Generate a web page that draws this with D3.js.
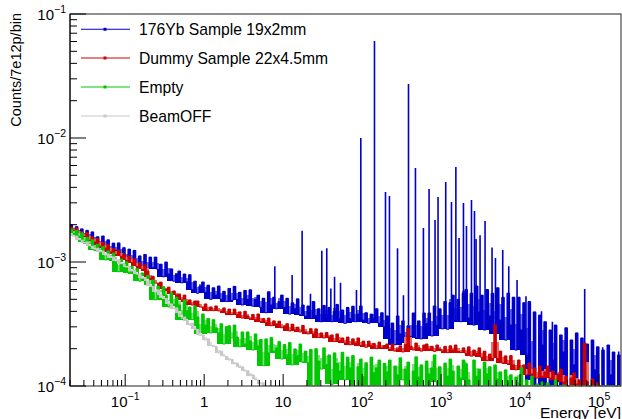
<!DOCTYPE html>
<html><head><meta charset="utf-8">
<script src="https://cdn.jsdelivr.net/npm/d3@7/dist/d3.min.js"></script>
<style>
body{margin:0;background:#fff}
svg{display:block}
text{font-family:"Liberation Sans",Arial,Helvetica,sans-serif;fill:#000}
</style>
</head><body>
<svg id="chart" width="622" height="419"></svg>
<script>
// ---- data (values in units of 1e-6 counts/7e12p/bin) ----
const UNIT = 1e-6;
const binStart = 0.02;        // eV, first bin edge
const binsPerDecade = 30;     // log binning
const nBins = 210;

const yb176 = [
 1990,1785,1930,1720,1850,1590,1800,1560,1750,1450,1600,1340,1620,1330,1510,1200,1420,1240,1425,1120,1305,1030,1270,1040,1240,950,1120,890,1150,880,
 1095,900,1095,870,960,760,1000,800,880,700,800,845,680,800,690,790,600,700,560,640,690,570,650,500,620,540,640,500,580,480,
 612,490,636,500,570,450,590,500,597,440,500,540,430,510,390,576,450,520,420,480,541,430,510,380,470,420,505,375,450,365,
 442,350,480,370,420,330,446,380,430,330,400,455,350,410,320,430,350,440,330,380,442,340,390,320,380,350,420,320,390,300,
 367,239,322,215,367,263,335,222,306,251,388,244,335,240,388,318,388,253,442,308,420,289,480,287,470,540,340,500,330,560,
 600,353,560,310,640,396,540,283,600,367,560,263,620,340,520,235,560,310,520,195,520,283,470,178,480,112,396,0,373,214,
 330,0,283,162,310,0,258,188,295,0,235,148,268,0,244,162,218,0,235,135,207,0,195,0,214,123,188,0,178,0
];
// Yb sample gamma lines: energy (eV) and peak bin content
const peakEnergy = [7.85,13.0,17.4,22.2,30.9,35.7,40.2,44.8,53.3,84.9,96.3,143.5,197.8,222,281,334,387,474,598,705,839,916,1146,1355,1540,1690,1922,2098,2428,2650,2775,3118,3607,4423,4885,6040,7200,9170,11900,18700,25700,65900,111400,177500];
const peakValue  = [925,785,1790,555,1230,1290,610,760,680,595,10000,60500,3670,3400,1290,540,27200,5730,1880,3880,2180,3340,4420,3050,5840,1560,2990,1950,3160,2580,1530,1640,2140,1310,1077,1250,925,715,530,400,330,605,205,190];

const dummy = [
 1915,1800,1885,1680,1755,1610,1725,1495,1600,1450,1545,1340,1440,1295,1385,1205,1285,1150,1245,1110,1160,1030,1120,990,1060,920,985,870,950,845,
 740,768,675,675,688,605,605,627,552,584,541,552,495,541,476,495,450,485,485,434,430,459,405,434,405,442,403,403,426,385,
 417,377,417,377,396,353,400,367,347,377,343,381,330,350,324,353,306,335,315,333,295,303,318,278,315,283,298,273,308,273,
 263,290,263,289,246,268,244,270,248,258,228,263,232,244,222,248,215,240,222,244,212,230,205,230,212,220,200,226,203,212,
 218,197,218,191,199,211,188,216,290,209,195,222,203,191,214,218,199,209,190,214,199,191,209,186,211,195,214,190,186,203,
 183,207,174,195,183,203,170,191,160,181,167,311,167,191,153,175,151,176,148,135,162,137,148,123,153,125,140,116,145,120,
 130,145,116,132,112,125,137,108,120,0,116,128,104,112,0,222,108,0,114,0,106,0
];

const empty = [
 1845,1700,1805,1615,1720,1460,1580,1395,1510,1240,1390,1230,1330,1040,1230,1070,1180,1020,835,1055,925,1005,820,925,800,885,700,815,705,780,
 650,715,495,638,545,632,540,434,563,455,520,450,343,495,403,434,343,442,360,263,381,310,350,268,343,295,268,318,218,300,
 306,244,310,248,207,273,218,273,231,195,263,211,237,146,240,185,246,191,203,228,165,216,178,224,148,199,176,218,156,191,
 154,197,0,200,159,137,203,149,178,103,185,152,132,187,112,171,140,176,0,143,165,119,154,0,171,128,140,162,0,152,
 130,162,0,145,123,169,112,137,156,0,132,172,118,148,0,159,125,140,178,108,143,0,153,120,165,132,0,145,116,162,
 151,112,0,162,120,137,0,156,125,143,0,148,114,130,0,135,108,123,0,118,106,140,0,112,0,120,0,104,0,108,
 0,106,0,0,112,0,0,102
];

const beamOff = [
 1690,1610,1620,1515,1500,1420,1450,1350,1340,1270,1290,1210,1225,1140,1160,1085,1100,1020,1040,970,963,910,915,845,855,797,800,740,750,700,
 638,632,573,595,545,512,506,459,459,420,426,385,360,360,337,310,321,289,283,256,258,235,240,212,211,207,185,191,175,173,
 162,164,151,153,141,143,132,133,121,123,113,112,104,106
];

const seriesNames  = ["176Yb Sample 19x2mm","Dummy Sample 22x4.5mm","Empty","BeamOFF"];
const seriesColors = ["#0000cc","#cc0000","#00c800","#c8c8c8"];
const seriesShades = ["#6a6ae0","#e07070","#80e080","#dcdcdc"];

const xTickValues = [0.1,1,10,100,1000,10000,100000];
const xTickLabels = [["10","\u22121"],["1",""],["10",""],["10","2"],["10","3"],["10","4"],["10","5"]];
const yTickValues = [1e-4,1e-3,1e-2,1e-1];
const yTickLabels = [["10","\u22124"],["10","\u22123"],["10","\u22122"],["10","\u22121"]];
const xTitle = "Energy [eV]";
const yTitle = "Counts/7e12p/bin";

// ---- drawing ----
const svg = d3.select("#chart");
const L = 70, R = 621, T = 14, B = 386;
const x = d3.scaleLog().domain([0.02, 1.9e5]).range([L, R]);
const y = d3.scaleLog().domain([1e-4, 1e-1]).range([B, T]);

svg.append("defs").append("clipPath").attr("id","clip")
  .append("rect").attr("x",L).attr("y",T-1).attr("width",R-L).attr("height",B-T+1.5);

const edges = d3.range(nBins+1).map(k => binStart*Math.pow(10, k/binsPerDecade));
const binOf = E => Math.floor(Math.log10(E/binStart)*binsPerDecade);
const yOf = v => { const c = (v||0)*UNIT; return c < 1e-4 ? y(1e-4) : y(c); };

// dense histogram: each bin drawn as a column from its content down to the
// lowest content among nearby bins (the fine-binned noise band); a paler layer
// reaching toward the neighbours' maximum mimics the anti-aliased fine-bin fringe.
function drawHist(g, vals, color, shade, reach){
  const cols = [];
  const get = j => (j < vals.length ? vals[j] : 0) || 0;
  for(let k=0;k<nBins;k++){
    const v = get(k);
    let lo = v;
    for(let j=k-reach;j<=k+reach;j++){
      if(j<0 || j>=nBins) continue;
      lo = Math.min(lo, get(j));
    }
    const hi = Math.max(v, k>0 ? get(k-1) : v, k<nBins-1 ? get(k+1) : v);
    cols.push({k, top: yOf(v), bot: yOf(lo), hiTop: yOf(Math.sqrt(hi*v))});
  }
  const xr = d => x(edges[d.k]), wr = d => x(edges[d.k+1]) - x(edges[d.k]);
  g.selectAll(null).data(cols).enter().append("rect")
    .attr("x", xr).attr("width", wr)
    .attr("y", d => d.hiTop).attr("height", d => Math.max(0, d.bot - d.hiTop))
    .attr("fill", shade).attr("shape-rendering","crispEdges");
  g.selectAll(null).data(cols).enter().append("rect")
    .attr("x", xr).attr("width", wr)
    .attr("y", d => d.top).attr("height", d => Math.max(0, d.bot - d.top))
    .attr("fill", color).attr("shape-rendering","crispEdges");
  let p = "";
  for(let k=0;k<nBins;k++){
    const yy = yOf(get(k));
    const x0 = x(edges[k]), x1 = x(edges[k+1]);
    p += (k===0 ? `M${x0.toFixed(2)},${yy.toFixed(2)}` : `V${yy.toFixed(2)}`) + `H${x1.toFixed(2)}`;
  }
  g.append("path").attr("d", p).attr("fill","none").attr("stroke", color).attr("stroke-width",1);
}

const plot = svg.append("g").attr("clip-path","url(#clip)");
const gBlue = plot.append("g");
drawHist(gBlue, yb176, seriesColors[0], seriesShades[0], 2);
// gamma lines as narrow spikes above the continuum
gBlue.selectAll(null).data(peakEnergy.map((E,i)=>({E, v: peakValue[i]}))).enter().append("line")
  .attr("x1", d => x(d.E)).attr("x2", d => x(d.E))
  .attr("y1", d => yOf(yb176[binOf(d.E)]))
  .attr("y2", d => yOf(d.v))
  .attr("stroke", seriesColors[0]).attr("stroke-width",1.6);
drawHist(plot.append("g"), dummy, seriesColors[1], seriesShades[1], 2);
drawHist(plot.append("g"), empty, seriesColors[2], seriesShades[2], 2);
drawHist(plot.append("g"), beamOff, seriesColors[3], seriesShades[3], 1);

// frame
svg.append("rect").attr("x",L).attr("y",T).attr("width",R-L).attr("height",B-T)
  .attr("fill","none").attr("stroke","#222").attr("stroke-width",1);
svg.append("line").attr("x1",L).attr("x2",L).attr("y1",T).attr("y2",B).attr("stroke","#000");

// x ticks
const gx = svg.append("g");
for(let d=-2; d<=5; d++){
  for(let m=1; m<=9; m++){
    const v = m*Math.pow(10,d);
    if(v < 0.02*0.999 || v > 1.9e5) continue;
    const px = x(v);
    const len = m===1 ? 12 : 6;
    gx.append("line").attr("x1",px).attr("x2",px).attr("y1",B).attr("y2",B-len).attr("stroke","#000").attr("stroke-width",1);
  }
}
xTickValues.forEach((v,i)=>{
  const t = gx.append("text").attr("x",x(v)).attr("y",406.5).attr("text-anchor","middle").attr("font-size",15);
  t.append("tspan").text(xTickLabels[i][0]);
  if(xTickLabels[i][1]) t.append("tspan").attr("dy",-7).attr("font-size",10.5).text(xTickLabels[i][1]);
});

// y ticks
const gy = svg.append("g");
for(let d=-4; d<=-1; d++){
  for(let m=1; m<=9; m++){
    const v = m*Math.pow(10,d);
    if(v > 0.1*1.001) continue;
    const py = y(v);
    const len = m===1 ? 16 : 7;
    gy.append("line").attr("x1",L).attr("x2",L+len).attr("y1",py).attr("y2",py).attr("stroke","#000").attr("stroke-width",1);
  }
}
yTickValues.forEach((v,i)=>{
  const t = gy.append("text").attr("x",66).attr("y",y(v)+5.5).attr("text-anchor","end").attr("font-size",15);
  t.append("tspan").text(yTickLabels[i][0]);
  t.append("tspan").attr("dy",-7).attr("font-size",10.5).text(yTickLabels[i][1]);
});

// titles
svg.append("text").attr("x",621).attr("y",418).attr("text-anchor","end").attr("font-size",15.5).text(xTitle);
svg.append("text").attr("transform","translate(21,13) rotate(-90)").attr("text-anchor","end").attr("font-size",14.5).text(yTitle);

// legend
const legY = [29.3, 58, 87, 116];
seriesNames.forEach((name,i)=>{
  const g = svg.append("g");
  g.append("line").attr("x1",81).attr("x2",130).attr("y1",legY[i]).attr("y2",legY[i]).attr("stroke",seriesColors[i]).attr("stroke-width",1.1);
  g.append("rect").attr("x",103.5).attr("y",legY[i]-1.5).attr("width",3).attr("height",3).attr("fill",seriesColors[i]);
  g.append("text").attr("x",139).attr("y",legY[i]+5.5).attr("font-size",15.7).text(name);
});
</script>
</body></html>
